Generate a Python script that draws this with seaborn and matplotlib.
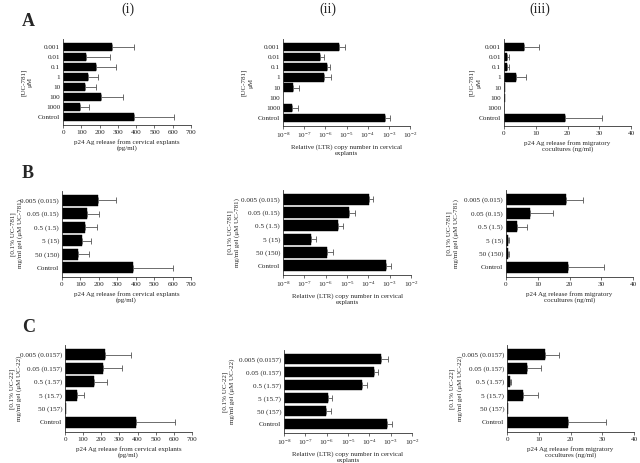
import numpy as np
import pandas as pd
import seaborn as sns
import matplotlib.pyplot as plt
from matplotlib.ticker import LogLocator, NullLocator, MultipleLocator

# --- Category labels ---
a_labels = ["0.001", "0.01", "0.1", "1", "10", "100", "1000", "Control"]
b_labels = ["0.005 (0.015)", "0.05 (0.15)", "0.5 (1.5)", "5 (15)", "50 (150)", "Control"]
c_labels = ["0.005 (0.0157)", "0.05 (0.157)", "0.5 (1.57)", "5 (15.7)", "50 (157)", "Control"]

# --- Row A: UC-781 (uM) ---
a_p24_expl = [267, 128, 178, 137, 123, 207, 92, 388]
a_p24_expl_err = [123, 128, 112, 57, 55, 123, 49, 217]
a_ltr = [4.4e-6, 5.4e-7, 1.15e-6, 9.1e-7, 2.85e-8, np.nan, 2.6e-8, 6.9e-4]
a_ltr_err = [3.9e-6, 2.9e-7, 4.5e-7, 8.9e-7, 2.65e-8, np.nan, 2.6e-8, 4.8e-4]
a_p24_mig = [6.3, 0.9, 0.9, 3.7, 0.4, 0.2, 0.1, 19.3]
a_p24_mig_err = [4.8, 0.7, 0.7, 3.1, 0.0, 0.0, 0.0, 11.6]

# --- Row B: 0.1% UC-781 gel ---
b_p24_expl = [193, 135, 124, 107, 87, 387]
b_p24_expl_err = [98, 67, 67, 49, 57, 213]
b_ltr = [1.05e-4, 1.3e-5, 3.9e-6, 2.0e-7, 1.1e-6, 6.8e-4]
b_ltr_err = [6.9e-5, 1.2e-5, 2.4e-6, 1.6e-7, 1.1e-6, 5.2e-4]
b_p24_mig = [18.8, 7.5, 3.4, 0.6, 0.6, 19.4]
b_p24_mig_err = [5.3, 7.2, 3.3, 0.4, 0.3, 11.6]

# --- Row C: 0.1% UC-22 gel ---
c_p24_expl = [222, 210, 158, 68, 7, 390]
c_p24_expl_err = [144, 106, 74, 39, 0, 215]
c_ltr = [3.6e-4, 1.66e-4, 4.5e-5, 1.12e-6, 9.3e-7, 6.9e-4]
c_ltr_err = [3.6e-4, 8.4e-5, 3.3e-5, 6.2e-7, 6.2e-7, 5.1e-4]
c_p24_mig = [11.9, 6.3, 0.95, 5.0, 0.3, 19.2]
c_p24_mig_err = [4.5, 4.5, 0.35, 4.8, 0.0, 11.9]

# --- Axis texts ---
xlab_expl = "p24 Ag release from cervical explants\n(pg/ml)"
xlab_ltr = "Relative (LTR) copy number in cervical\nexplants"
xlab_mig = "p24 Ag release from migratory\ncocultures (ng/ml)"
ylab_a = "[UC-781]\n\u03bcM"
ylab_b = "[0.1% UC-781]\nmg/ml gel (\u03bcM UC-781)"
ylab_c = "[0.1% UC-22]\nmg/ml gel (\u03bcM UC-22)"

sns.set_style("ticks")
plt.rcParams['font.family'] = ['Liberation Serif', 'DejaVu Serif']
plt.rcParams['mathtext.fontset'] = 'stix'

W, H = 640, 463
fig = plt.figure(figsize=(W / 100, H / 100), dpi=100)


def panel(box, labels, vals, errs, kind, ylabel, ylab_x):
    x0, y_top, w, y_bot = box
    ax = fig.add_axes([x0 / W, 1 - y_bot / H, w / W, (y_bot - y_top) / H])
    df = pd.DataFrame({"label": labels, "value": vals, "err": errs})
    sns.barplot(data=df, x="value", y="label", order=labels, orient="h",
                color="black", width=0.82, errorbar=None, saturation=1,
                edgecolor="black", linewidth=0.3, ax=ax)
    ok = df["value"].notna() & (df["err"] > 0)
    pos = np.arange(len(labels))[ok.values]
    ax.errorbar(df["value"][ok], pos,
                xerr=[np.zeros(ok.sum()), df["err"][ok]],
                fmt="none", ecolor="#555555", elinewidth=0.6,
                capsize=2, capthick=0.6)
    if kind == "expl":
        ax.set_xlim(0, 700)
        ax.xaxis.set_major_locator(MultipleLocator(100))
        ax.set_xlabel(xlab_expl, fontsize=5, labelpad=3)
    elif kind == "mig":
        ax.set_xlim(0, 40)
        ax.xaxis.set_major_locator(MultipleLocator(10))
        ax.set_xlabel(xlab_mig, fontsize=5, labelpad=3)
    else:
        ax.set_xscale("log")
        ax.set_xlim(1e-8, 1e-2)
        ax.xaxis.set_major_locator(LogLocator(base=10, numticks=10))
        ax.xaxis.set_minor_locator(NullLocator())
        ax.set_xlabel(xlab_ltr, fontsize=5, labelpad=3)
    ax.set_ylabel(ylabel, fontsize=5, linespacing=1.3)
    ax.yaxis.set_label_coords(ylab_x, 0.5)
    sns.despine(ax=ax)
    for s in ("left", "bottom"):
        ax.spines[s].set_linewidth(0.6)
        ax.spines[s].set_color("#333333")
    ax.tick_params(axis="y", length=0, pad=2, labelsize=5.2)
    ax.tick_params(axis="x", length=2, width=0.5, pad=1.5, labelsize=5.2,
                   color="#333333")
    return ax


# --- Row A ---
panel((63, 39, 128, 125), a_labels, a_p24_expl, a_p24_expl_err, "expl", ylab_a, -0.24)
panel((283, 39, 127, 126), a_labels, a_ltr, a_ltr_err, "ltr", ylab_a, -0.236)
panel((504, 39, 127, 126), a_labels, a_p24_mig, a_p24_mig_err, "mig", ylab_a, -0.18)

# --- Row B ---
panel((62, 191, 129, 277), b_labels, b_p24_expl, b_p24_expl_err, "expl", ylab_b, -0.30)
panel((283, 190, 128, 275), b_labels, b_ltr, b_ltr_err, "ltr", ylab_b, -0.336)
panel((506, 190, 127, 277), b_labels, b_p24_mig, b_p24_mig_err, "mig", ylab_b, -0.37)

# --- Row C ---
panel((65, 345, 127, 432), c_labels, c_p24_expl, c_p24_expl_err, "expl", ylab_c, -0.34)
panel((284, 350, 128, 433), c_labels, c_ltr, c_ltr_err, "ltr", ylab_c, -0.38)
panel((507, 345, 127, 432), c_labels, c_p24_mig, c_p24_mig_err, "mig", ylab_c, -0.35)

# --- Column headers and row letters ---
for xc, t in [(128, "(i)"), (328, "(ii)"), (540, "(iii)")]:
    fig.text(xc / W, 1 - 9 / H, t, ha="center", va="center", fontsize=10)
for yc, t in [(22, "A"), (173, "B"), (328, "C")]:
    fig.text(22 / W, 1 - yc / H, t, ha="left", va="center", fontsize=13,
             fontweight="bold")

fig.savefig("out.png", dpi=100)
